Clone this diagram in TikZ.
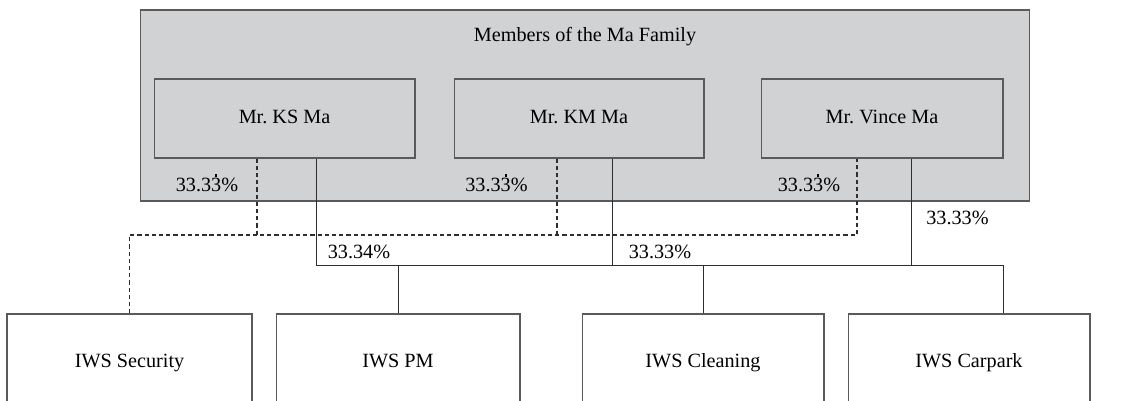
\documentclass[tikz,border=0pt]{standalone}
\usepackage{fontspec}
\setmainfont{Liberation Serif}
\usepackage{tikz}
\usetikzlibrary{positioning}
\definecolor{famgrey}{HTML}{D1D2D4}
\definecolor{boxedge}{HTML}{5A5A5A}
\definecolor{linkline}{HTML}{2E2E2E}
\newcommand{\recurring}[1]{\leavevmode\hbox{\ooalign{#1\cr\hidewidth\raisebox{0.74em}{\rule{0.11em}{0.11em}}\hidewidth\cr}}}
\frenchspacing
\tikzset{
  family-group/.style={draw=boxedge, fill=famgrey, line width=0.6pt, minimum width=17.8cm, minimum height=3.82cm},
  member-box/.style={draw=boxedge, fill=famgrey, line width=0.6pt, minimum height=1.58cm,
    text height=1.5ex, text depth=0.25ex, font=\fontsize{11.5}{13}\selectfont},
  company-box/.style={draw=boxedge, fill=white, line width=0.6pt, minimum height=1.92cm,
    text height=1.5ex, text depth=0.25ex, font=\fontsize{11.5}{13}\selectfont},
  share-solid/.style={draw=linkline, line width=0.5pt},
  share-dashed/.style={draw=linkline, line width=0.9pt, dash pattern=on 2.4pt off 1.7pt},
  share-label/.style={font=\fontsize{11.5}{13}\selectfont, inner sep=0pt}
}

\begin{document}
\begin{tikzpicture}[x=0.02cm, y=-0.02cm]
  \useasboundingbox (0,0) rectangle (1125,401);
  \clip (0,0) rectangle (1125,401);

  % Family group
  \node[family-group] (family) at (585,105.5) {};
  \node[share-label] (title) at (585,37) {Members of the Ma Family};

  % Family members
  \node[member-box, minimum width=5.22cm] (ks) at (284.5,118.5) {Mr. KS Ma};
  \node[member-box, minimum width=5.0cm] (km) at (579,118.5) {Mr. KM Ma};
  \node[member-box, minimum width=4.84cm] (vince) at (882,118.5) {Mr. Vince Ma};

  % Companies
  \node[company-box, minimum width=4.9cm] (security) at (129.5,362) {IWS Security};
  \node[company-box, minimum width=4.88cm] (pm) at (398,362) {IWS PM};
  \node[company-box, minimum width=4.84cm] (cleaning) at (703,362) {IWS Cleaning};
  \node[company-box, minimum width=4.84cm] (carpark) at (969,362) {IWS Carpark};

  % Connector end points
  \coordinate (dashbus) at (0,235);
  \coordinate (solidbus) at (0,265.5);
  \coordinate (ks-d) at ([xshift=-0.556cm]ks.south);
  \coordinate (ks-s) at ([xshift=0.63cm]ks.south);
  \coordinate (km-d) at ([xshift=-0.44cm]km.south);
  \coordinate (km-s) at ([xshift=0.66cm]km.south);
  \coordinate (vince-d) at ([xshift=-0.50cm]vince.south);
  \coordinate (vince-s) at ([xshift=0.58cm]vince.south);
  \coordinate (carpark-s) at ([xshift=0.68cm]carpark.north);

  % Security shares (dashed)
  \draw[share-dashed] (security.north) |- (vince-d |- dashbus) -- (vince-d);
  \draw[share-dashed] (ks-d) -- (ks-d |- dashbus);
  \draw[share-dashed] (km-d) -- (km-d |- dashbus);

  % Other shares (solid)
  \draw[share-solid] (ks-s) -- (ks-s |- solidbus) -- (carpark-s |- solidbus) -- (carpark-s);
  \draw[share-solid] (km-s) -- (km-s |- solidbus);
  \draw[share-solid] (vince-s) -- (vince-s |- solidbus);
  \draw[share-solid] (pm.north) -- (pm.north |- solidbus);
  \draw[share-solid] (cleaning.north) -- (cleaning.north |- solidbus);

  % Percentages
  \node[share-label] (ks-pct-d) at (207,185) {33.3\recurring{3}\%};
  \node[share-label] (km-pct-d) at (496.5,185) {33.3\recurring{3}\%};
  \node[share-label] (vince-pct-d) at (809,185) {33.3\recurring{3}\%};
  \node[share-label] (ks-pct-s) at (359,252) {33.34\%};
  \node[share-label] (km-pct-s) at (660,252) {33.33\%};
  \node[share-label] (vince-pct-s) at (957.5,218) {33.33\%};
\end{tikzpicture}
\end{document}
